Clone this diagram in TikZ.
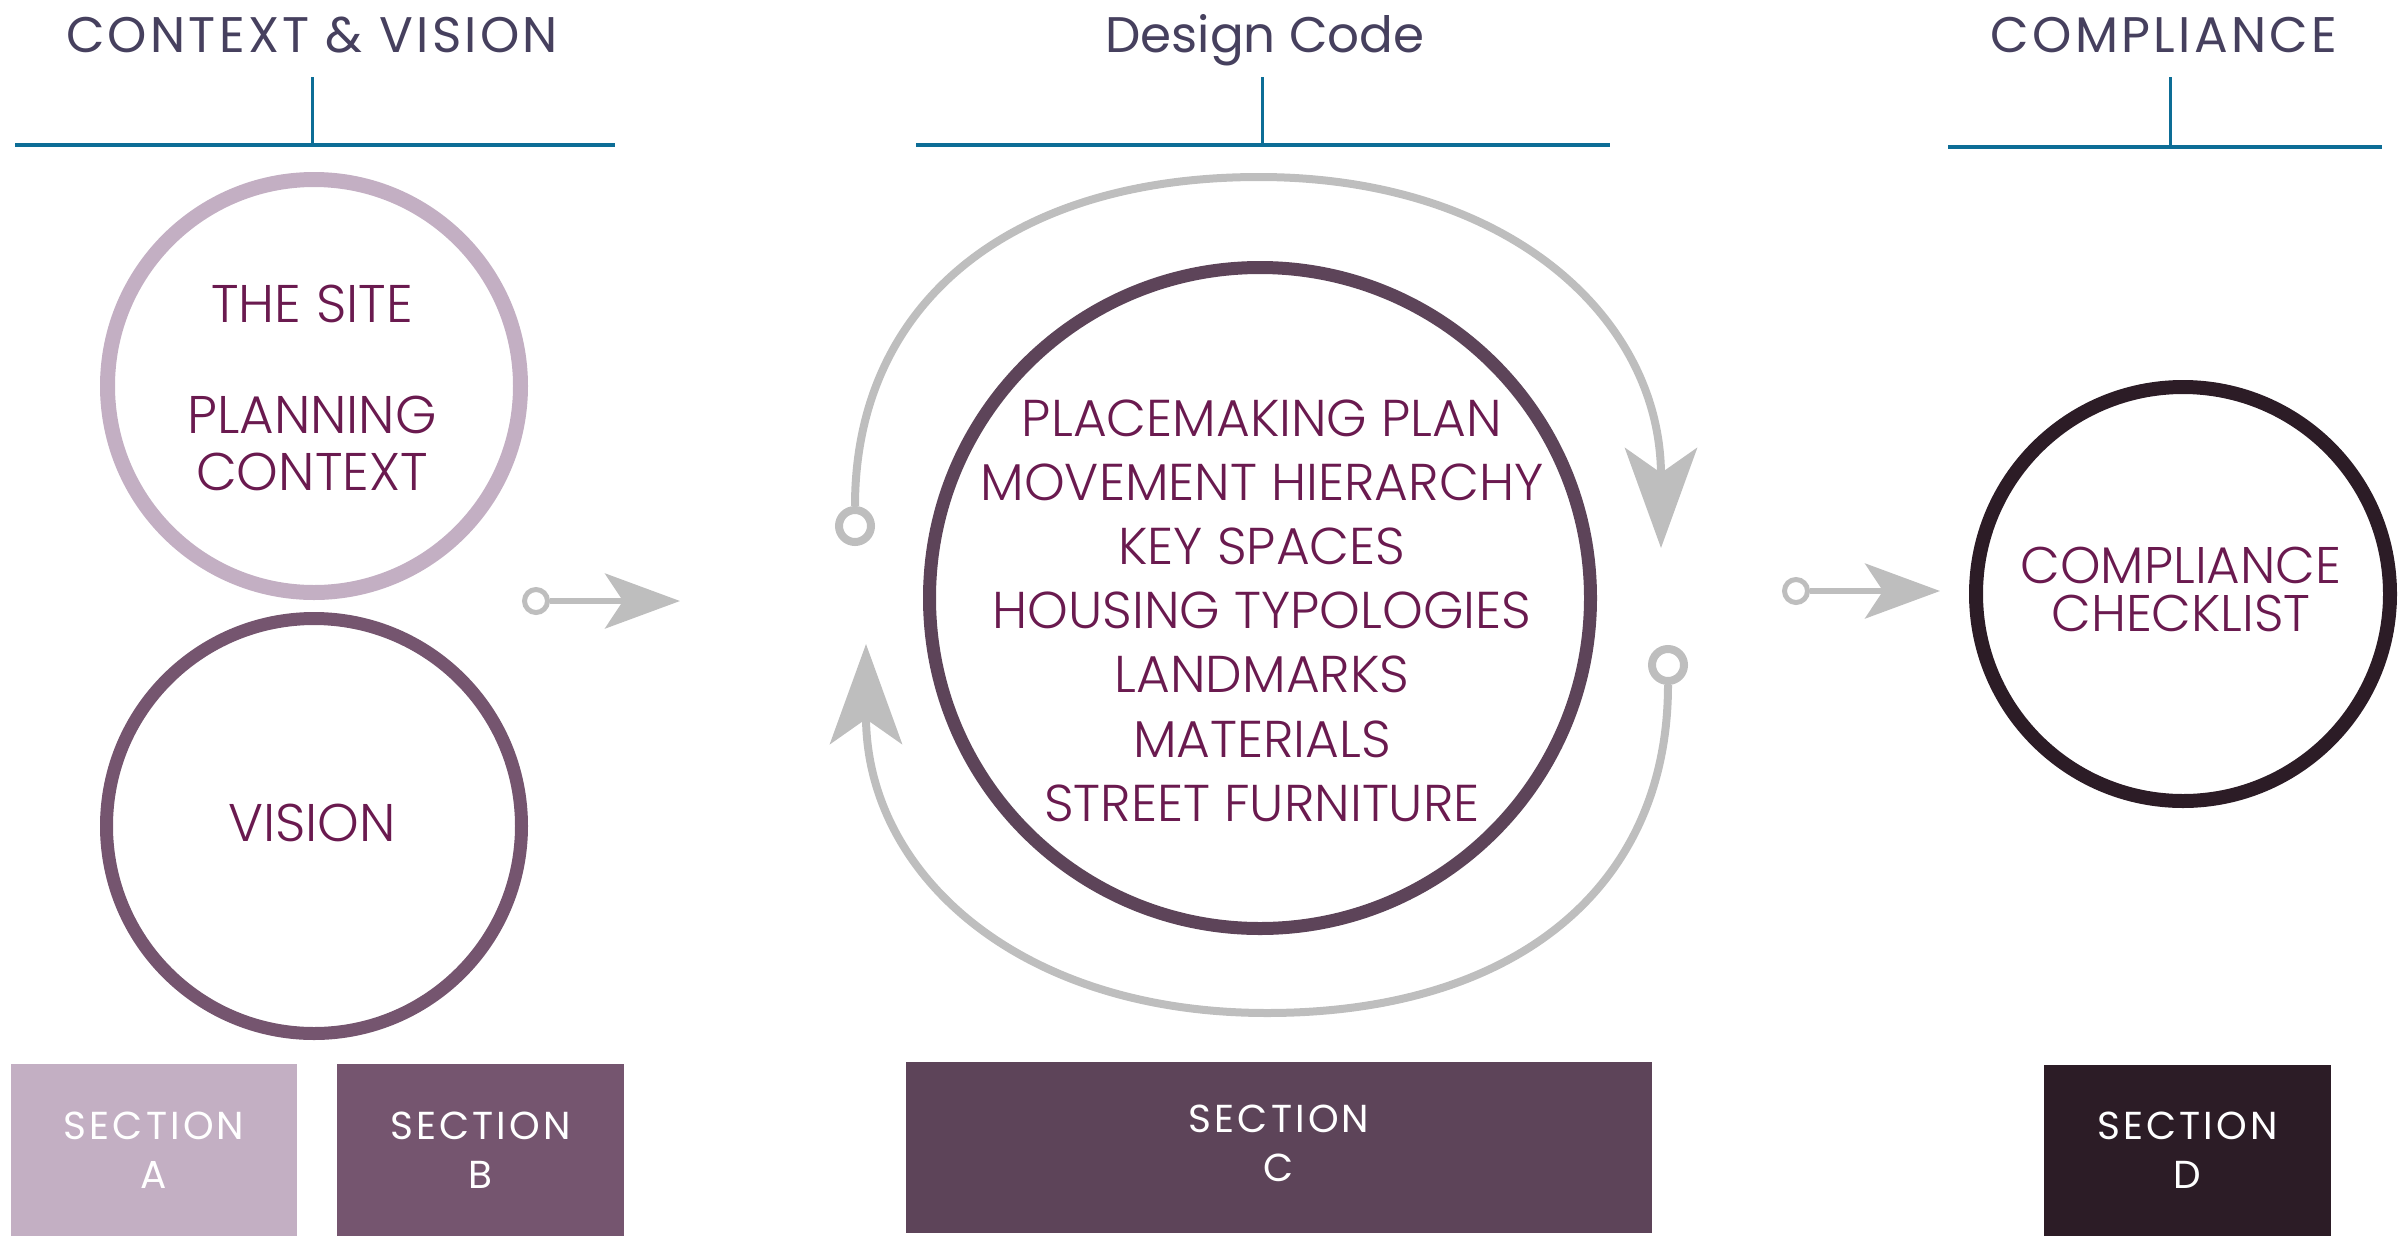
\documentclass[tikz,border=0pt]{standalone}
\usepackage{fontspec}
\setmainfont{Poppins}
\newfontfamily\lightfont{Poppins}[UprightFont={* Light}]
\newfontfamily\trackedfont{Poppins}[LetterSpace=6.5]
\newfontfamily\tabfont{Poppins}[LetterSpace=8]
\usetikzlibrary{arrows.meta}

\definecolor{headink}{HTML}{46405E}
\definecolor{bracketblue}{HTML}{0D6D96}
\definecolor{plum}{HTML}{6A1A4F}
\definecolor{flowgrey}{HTML}{BEBEBE}
\definecolor{mauveA}{HTML}{C3AFC3}
\definecolor{mauveB}{HTML}{75556F}
\definecolor{mauveC}{HTML}{5D4459}
\definecolor{mauveD}{HTML}{2C1C26}

\tikzset{
  heading/.style={font=\trackedfont\fontsize{50}{60}\selectfont, text=headink,
    text height=36pt, text depth=0pt, inner sep=0pt},
  bracket/.style={draw=bracketblue, line width=4pt},
  ticker/.style={draw=bracketblue, line width=3pt},
  ring/.style={circle, draw=#1, fill=none, inner sep=0pt},
  ringtext/.style={font=\lightfont\fontsize{53}{64}\selectfont, text=plum,
    align=center, inner sep=0pt},
  knob/.style={circle, draw=flowgrey, fill=white, line width=5pt,
    inner sep=0pt, minimum size=23pt},
  bigknob/.style={circle, draw=flowgrey, fill=white, line width=8pt,
    inner sep=0pt, minimum size=32pt},
  flow/.style={draw=flowgrey, line width=6pt,
    -{Stealth[length=75pt, width=55pt, inset=18pt, fill=flowgrey]}},
  bigflow/.style={draw=flowgrey, line width=8pt,
    -{Stealth[length=100pt, width=72pt, inset=25pt, fill=flowgrey]}},
  section/.style={rectangle, fill=#1, text=white, align=center,
    font=\tabfont\fontsize{39}{49}\selectfont, inner sep=0pt},
}

\begin{document}
\begin{tikzpicture}[x=1pt, y=-1pt]
\useasboundingbox (0,0) rectangle (2399,1240);

% column headings with their brackets
\node[heading] (h1) at (312,34) {CONTEXT \& VISION};
\node[heading, font=\fontsize{50}{60}\selectfont] (h2) at (1265,34) {Design Code};
\node[heading] (h3) at (2164,34) {COMPLIANCE};

\coordinate (b1l) at (15,145);   \coordinate (b1r) at (615,145);
\coordinate (b1t) at (312,77);   \coordinate (b1m) at (312,145);
\coordinate (b2l) at (916,145);  \coordinate (b2r) at (1610,145);
\coordinate (b2t) at (1262,77);  \coordinate (b2m) at (1262,145);
\coordinate (b3l) at (1948,147); \coordinate (b3r) at (2382,147);
\coordinate (b3t) at (2170,77);  \coordinate (b3m) at (2170,147);
\draw[bracket] (b1l) -- (b1r);
\draw[ticker] (b1t) -- (b1m);
\draw[bracket] (b2l) -- (b2r);
\draw[ticker] (b2t) -- (b2m);
\draw[bracket] (b3l) -- (b3r);
\draw[ticker] (b3t) -- (b3m);

% circles
\node[ring=mauveA, line width=15pt, minimum size=413pt] (site) at (314,386) {};
\node[ring=mauveB, line width=13pt, minimum size=415pt] (vision) at (314,826) {};
\node[ring=mauveC, line width=13pt, minimum size=661pt] (code) at (1260,598) {};
\node[ring=mauveD, line width=14pt, minimum size=414pt] (check) at (2183,594) {};

% circle labels
\node[ringtext] (siteA) at (312,304) {THE SITE};
\node[ringtext, font=\lightfont\fontsize{53}{57}\selectfont] (siteB) at (312,443.5) {PLANNING\\CONTEXT};
\node[ringtext] (visionT) at (312,823) {VISION};
\node[ringtext, font=\lightfont\fontsize{51.8}{64.2}\selectfont] (codeT) at (1262,610.5) {PLACEMAKING PLAN\\MOVEMENT HIERARCHY\\KEY SPACES\\HOUSING TYPOLOGIES\\LANDMARKS\\MATERIALS\\STREET FURNITURE};
\node[ringtext, font=\lightfont\fontsize{51.5}{48}\selectfont] (checkT) at (2181,589) {COMPLIANCE\\CHECKLIST};

% straight connectors between stages
\node[knob] (k1) at (536,601) {};
\coordinate (t1) at (680,601);
\draw[flow] (k1) -- (t1);
\node[knob] (k2) at (1796,591) {};
\coordinate (t2) at (1940,591);
\draw[flow] (k2) -- (t2);

% iteration loop around the design code
\node[bigknob] (k3) at (855,526) {};
\coordinate (t3) at (1661,548);
\draw[bigflow] (k3.north) .. controls (855,304) and (1009,177) .. (1259,177)
  .. controls (1508,177) and (1661,318) .. (t3);
\node[bigknob] (k4) at (1668,665) {};
\coordinate (t4) at (866,644);
\draw[bigflow] (k4.south) .. controls (1668,887) and (1516,1013) .. (1267,1013)
  .. controls (1018,1013) and (866,873) .. (t4);

% section tabs
\node[section=mauveA, minimum width=286pt, minimum height=172pt] (secA) at (154,1150) {SECTION\\A};
\node[section=mauveB, minimum width=287pt, minimum height=172pt] (secB) at (480.5,1150) {SECTION\\B};
\node[section=mauveC, minimum width=746pt, minimum height=171pt] (secC) at (1279,1147.5) {};
\node[section=mauveC] (secCT) at (1279,1143) {SECTION\\C};
\node[section=mauveD, minimum width=287pt, minimum height=171pt] (secD) at (2187.5,1150) {SECTION\\D};
\end{tikzpicture}
\end{document}
